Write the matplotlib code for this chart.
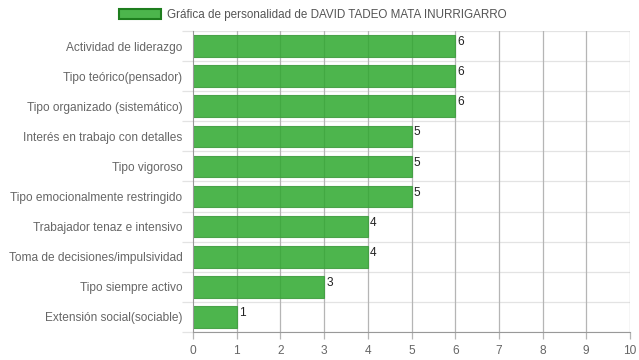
import matplotlib
matplotlib.use("Agg")
import matplotlib.pyplot as plt
import numpy as np

plt.rcParams['font.family'] = ['Liberation Sans', 'DejaVu Sans']

categories = [
    "Actividad de liderazgo",
    "Tipo teórico(pensador)",
    "Tipo organizado (sistemático)",
    "Interés en trabajo con detalles",
    "Tipo vigoroso",
    "Tipo emocionalmente restringido",
    "Trabajador tenaz e intensivo",
    "Toma de decisiones/impulsividad",
    "Tipo siempre activo",
    "Extensión social(sociable)",
]
values = [6, 6, 6, 5, 5, 5, 4, 4, 3, 1]
series_label = "Gráfica de personalidad de DAVID TADEO MATA INURRIGARRO"
xticks = list(range(0, 11))

fig = plt.figure(figsize=(6.39, 3.6), dpi=100)
ax = fig.add_axes([193/639, 1-332/360, (630-193)/639, (332-31)/360])

n = len(categories)
y = np.arange(n)
bar_face = (0.18, 0.66, 0.18, 0.85)
ax.barh(y, values, height=0.72, color=bar_face, edgecolor=(0.25, 0.62, 0.25, 0.9),
        linewidth=0.8, zorder=3)

ax.set_xlim(0, 10)
ax.set_ylim(n - 0.5, -0.5)
ax.set_xticks(xticks)
ax.set_xticklabels([str(t) for t in xticks])
ax.set_yticks(y)
ax.set_yticklabels(categories)

# grid
for xv in xticks[1:]:
    ax.axvline(xv, color="#b5b5b5", linewidth=0.9, zorder=2)
for b in np.arange(-0.5, n, 1.0):
    ax.axhline(b, color="#e3e3e3", linewidth=0.9, zorder=1)

for s in ["top", "right"]:
    ax.spines[s].set_visible(False)
ax.spines["left"].set_color("#999999")
ax.spines["bottom"].set_color("#999999")
ax.spines["left"].set_zorder(5)

ax.tick_params(axis="x", colors="#b5b5b5", labelcolor="#666666", labelsize=8.6,
               length=5, width=0.9, pad=4)
ax.tick_params(axis="y", which="major", length=0, labelcolor="#666666",
               labelsize=8.6, pad=7.5)
ax.set_yticks(np.arange(-0.5, n, 1.0), minor=True)
ax.tick_params(axis="y", which="minor", length=8, color="#e3e3e3", width=0.9)

for yi, v in zip(y, values):
    ax.text(v + 0.05, yi - 0.33, str(v), fontsize=8.6, color="#222222",
            ha="left", va="top", zorder=6)

# legend
from matplotlib.patches import Patch
handle = Patch(facecolor="#4cb54c", edgecolor="#1e7e1e", linewidth=1.5)
fig.legend([handle], [series_label], loc="center", bbox_to_anchor=(0.489, 1-15/360),
           frameon=False, fontsize=8.4, handlelength=3.6, handleheight=0.9,
           labelcolor="#555555", handletextpad=0.5)

fig.savefig("out.png", dpi=100)
